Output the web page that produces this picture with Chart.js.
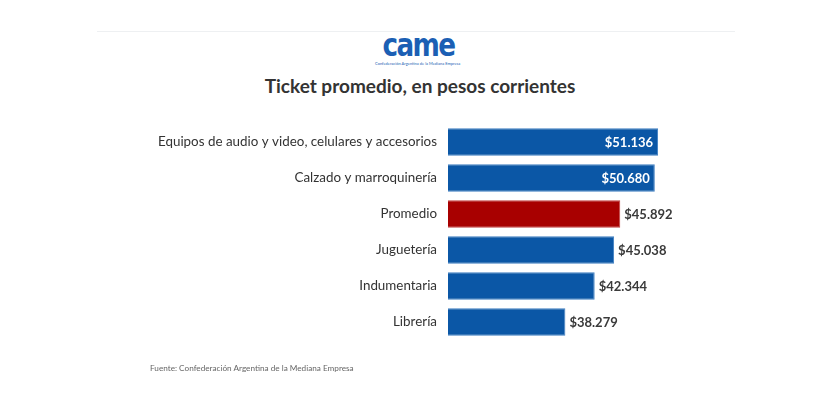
<!DOCTYPE html>
<html>
<head>
<meta charset="utf-8">
<script src="https://cdn.jsdelivr.net/npm/chart.js@4.4.0/dist/chart.umd.min.js"></script>
<style>
  body { margin: 0; background: #fff; width: 840px; height: 420px; overflow: hidden; position: relative; font-family: Lato, sans-serif; }
  #topLine { position: absolute; left: 97px; top: 31px; width: 638px; height: 1px; background: #eef0f2; }
  #logo { position: absolute; left: 375px; top: 29px; width: 84px; text-align: center; }
  #logo .mark { font-family: "DejaVu Sans", sans-serif; font-weight: bold; font-size: 32px; color: #1b5fb4; letter-spacing: -2px; line-height: 32px; transform: scaleX(0.82); }
  #logo .sub { font-size: 4px; color: #1b5fb4; white-space: nowrap; line-height: 5px; }
  #title { position: absolute; left: 0; width: 840px; top: 74px; text-align: center; font-weight: bold; font-size: 19px; color: #333; }
  #source { position: absolute; left: 150px; top: 363px; font-size: 8.2px; color: #666; }
  #wrap { position: absolute; left: 0; top: 0; width: 840px; height: 420px; }
</style>
</head>
<body>
<div id="topLine"></div>
<div id="logo"><div class="mark">came</div><div class="sub">Confederación Argentina de la Mediana Empresa</div></div>
<div id="title">Ticket promedio, en pesos corrientes</div>
<div id="wrap"><canvas id="myChart" width="840" height="420"></canvas></div>
<div id="source">Fuente: Confederación Argentina de la Mediana Empresa</div>
<script>
var categorias = [
    "Equipos de audio y video, celulares y accesorios",
    "Calzado y marroquinería",
    "Promedio",
    "Juguetería",
    "Indumentaria",
    "Librería"
];
var ticketPromedio = [51136, 50680, 45892, 45038, 42344, 38279];

var azul = '#0b57a6';
var rojo = '#a80000';

function formatoPesos(v) {
    return '$' + v.toString().replace(/\B(?=(\d{3})+(?!\d))/g, '.');
}

// etiquetas de valor: dentro de la barra si es grande, afuera si no
var etiquetasPlugin = {
    id: 'etiquetas',
    afterDatasetsDraw: function (chart) {
        var ctx = chart.ctx;
        var meta = chart.getDatasetMeta(0);
        ctx.save();
        ctx.font = 'bold 13px Lato, sans-serif';
        ctx.textBaseline = 'middle';
        meta.data.forEach(function (bar, i) {
            var v = ticketPromedio[i];
            var txt = formatoPesos(v);
            if (v >= 50000) {
                ctx.fillStyle = '#fff';
                ctx.textAlign = 'right';
                ctx.fillText(txt, bar.x - 5, bar.y + 1);
            } else {
                ctx.fillStyle = '#3a3a3a';
                ctx.textAlign = 'left';
                ctx.fillText(txt, bar.x + 4, bar.y + 1);
            }
        });
        ctx.restore();
    }
};

var ctx = document.getElementById('myChart').getContext('2d');
var myChart = new Chart(ctx, {
    type: 'bar',
    data: {
        labels: categorias,
        datasets: [{
            data: ticketPromedio,
            backgroundColor: categorias.map(function (c) { return c === 'Promedio' ? rojo : azul; }),
            borderColor: categorias.map(function (c) { return c === 'Promedio' ? '#c24040' : '#3f7fc2'; }),
            borderWidth: 1,
            borderSkipped: 'left',
            barPercentage: 0.76,
            categoryPercentage: 1
        }]
    },
    options: {
        indexAxis: 'y',
        responsive: false,
        animation: false,
        layout: { padding: { top: 124, bottom: 80, left: 0, right: 118 } },
        plugins: { legend: { display: false }, tooltip: { enabled: false } },
        scales: {
            x: { display: false, min: 22000, max: 60000 },
            y: {
                grid: { display: false, drawTicks: false },
                border: { display: false },
                ticks: { color: '#333', font: { family: 'Lato', size: 13.4 }, padding: 11 },
                afterFit: function (scale) { scale.width = 448; }
            }
        }
    },
    plugins: [etiquetasPlugin]
});
</script>
</body>
</html>
